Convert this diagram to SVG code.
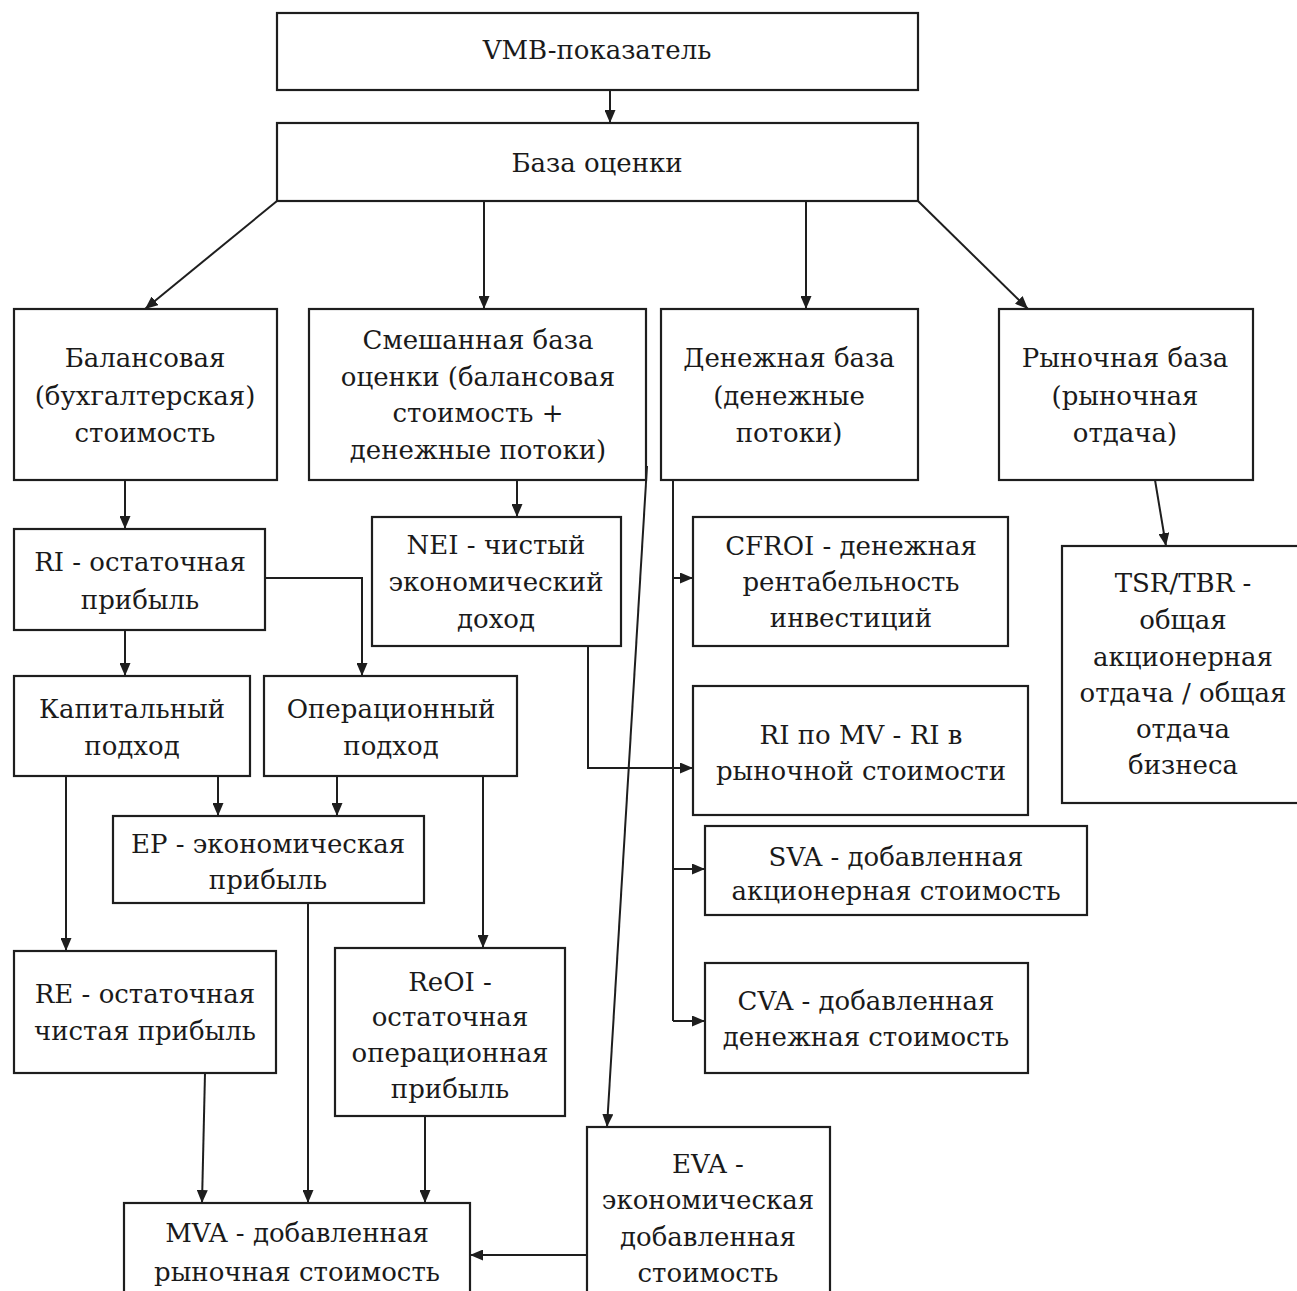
<svg xmlns="http://www.w3.org/2000/svg" width="1297" height="1291" viewBox="0 0 1297 1291">
<defs>
<style>
.box{fill:#ffffff;stroke:#1e1e1e;stroke-width:2.2}
.t{font-family:"DejaVu Serif","Liberation Serif",serif;font-size:26px;fill:#1a1a1a;text-anchor:middle}
.c{fill:none;stroke:#1e1e1e;stroke-width:2}
.a{marker-end:url(#ah)}
</style>
<marker id="ah" viewBox="0 0 13 11" refX="13" refY="5.5" markerWidth="13" markerHeight="11" markerUnits="userSpaceOnUse" orient="auto">
<path d="M0,0 L13,5.5 L0,11 Z" fill="#1e1e1e"/>
</marker>
</defs>
<rect width="1297" height="1291" fill="#ffffff"/>

<g id="connectors">
<line class="c a" x1="610" y1="90" x2="610" y2="123"/>
<line class="c a" x1="277" y1="201" x2="145" y2="309"/>
<line class="c a" x1="484" y1="201" x2="484" y2="309"/>
<line class="c a" x1="806" y1="201" x2="806" y2="309"/>
<line class="c a" x1="918" y1="201" x2="1028" y2="309"/>
<line class="c a" x1="125" y1="480" x2="125" y2="529"/>
<line class="c a" x1="517" y1="480" x2="517" y2="517"/>
<line class="c a" x1="1155" y1="480" x2="1166" y2="546"/>
<line class="c a" x1="125" y1="630" x2="125" y2="676"/>
<polyline class="c a" points="265,578 362,578 362,676"/>
<line class="c a" x1="218" y1="776" x2="218" y2="816"/>
<line class="c a" x1="337" y1="776" x2="337" y2="816"/>
<line class="c a" x1="66" y1="776" x2="66" y2="951"/>
<line class="c a" x1="483" y1="776" x2="483" y2="948"/>
<polyline class="c" points="673,480 673,1021"/>
<line class="c a" x1="673" y1="578" x2="693" y2="578"/>
<line class="c a" x1="673" y1="869" x2="705" y2="869"/>
<line class="c a" x1="673" y1="1021" x2="705" y2="1021"/>
<polyline class="c a" points="588,646 588,768 693,768"/>
<line class="c a" x1="647" y1="466" x2="607" y2="1127"/>
<line class="c a" x1="205" y1="1073" x2="202" y2="1203"/>
<line class="c a" x1="308" y1="903" x2="308" y2="1203"/>
<line class="c a" x1="425" y1="1116" x2="425" y2="1203"/>
<line class="c a" x1="587" y1="1255" x2="470" y2="1255"/>
</g>

<g id="n-vmb"><rect class="box" x="277" y="13" width="641" height="77"/><text class="t" x="597" y="59">VMB-показатель</text></g>
<g id="n-baza"><rect class="box" x="277" y="123" width="641" height="78"/><text class="t" x="597" y="172">База оценки</text></g>

<g id="n-balans"><rect class="box" x="14" y="309" width="263" height="171"/>
<text class="t" x="145" y="367">Балансовая</text><text class="t" x="145" y="405">(бухгалтерская)</text><text class="t" x="145" y="442">стоимость</text></g>
<g id="n-smesh"><rect class="box" x="309" y="309" width="337" height="171"/>
<text class="t" x="478" y="349">Смешанная база</text><text class="t" x="478" y="386">оценки (балансовая</text><text class="t" x="478" y="422">стоимость +</text><text class="t" x="478" y="459">денежные потоки)</text></g>
<g id="n-den"><rect class="box" x="661" y="309" width="257" height="171"/>
<text class="t" x="789" y="367">Денежная база</text><text class="t" x="789" y="405">(денежные</text><text class="t" x="789" y="442">потоки)</text></g>
<g id="n-ryn"><rect class="box" x="999" y="309" width="254" height="171"/>
<text class="t" x="1125" y="367">Рыночная база</text><text class="t" x="1125" y="405">(рыночная</text><text class="t" x="1125" y="442">отдача)</text></g>

<g id="n-ri"><rect class="box" x="14" y="529" width="251" height="101"/>
<text class="t" x="140" y="571">RI - остаточная</text><text class="t" x="140" y="609">прибыль</text></g>
<g id="n-nei"><rect class="box" x="372" y="517" width="249" height="129"/>
<text class="t" x="496" y="554">NEI - чистый</text><text class="t" x="496" y="591">экономический</text><text class="t" x="496" y="628">доход</text></g>
<g id="n-cfroi"><rect class="box" x="693" y="517" width="315" height="129"/>
<text class="t" x="851" y="555">CFROI - денежная</text><text class="t" x="851" y="591">рентабельность</text><text class="t" x="851" y="627">инвестиций</text></g>
<g id="n-tsr"><rect class="box" x="1062" y="546" width="240" height="257"/>
<text class="t" x="1183" y="592">TSR/TBR -</text><text class="t" x="1183" y="629">общая</text><text class="t" x="1183" y="666">акционерная</text><text class="t" x="1183" y="702">отдача / общая</text><text class="t" x="1183" y="738">отдача</text><text class="t" x="1183" y="774">бизнеса</text></g>

<g id="n-kap"><rect class="box" x="14" y="676" width="236" height="100"/>
<text class="t" x="132" y="718">Капитальный</text><text class="t" x="132" y="755">подход</text></g>
<g id="n-oper"><rect class="box" x="264" y="676" width="253" height="100"/>
<text class="t" x="391" y="718">Операционный</text><text class="t" x="391" y="755">подход</text></g>
<g id="n-rimv"><rect class="box" x="693" y="686" width="335" height="129"/>
<text class="t" x="861" y="744">RI по MV - RI в</text><text class="t" x="861" y="780">рыночной стоимости</text></g>
<g id="n-ep"><rect class="box" x="113" y="816" width="311" height="87"/>
<text class="t" x="268" y="853">EP - экономическая</text><text class="t" x="268" y="889">прибыль</text></g>
<g id="n-sva"><rect class="box" x="705" y="826" width="382" height="89"/>
<text class="t" x="896" y="866">SVA - добавленная</text><text class="t" x="896" y="900">акционерная стоимость</text></g>
<g id="n-re"><rect class="box" x="14" y="951" width="262" height="122"/>
<text class="t" x="145" y="1003">RE - остаточная</text><text class="t" x="145" y="1040">чистая прибыль</text></g>
<g id="n-reoi"><rect class="box" x="335" y="948" width="230" height="168"/>
<text class="t" x="450" y="991">ReOI -</text><text class="t" x="450" y="1026">остаточная</text><text class="t" x="450" y="1062">операционная</text><text class="t" x="450" y="1098">прибыль</text></g>
<g id="n-cva"><rect class="box" x="705" y="963" width="323" height="110"/>
<text class="t" x="866" y="1010">CVA - добавленная</text><text class="t" x="866" y="1046">денежная стоимость</text></g>
<g id="n-mva"><rect class="box" x="124" y="1203" width="346" height="100"/>
<text class="t" x="297" y="1242">MVA - добавленная</text><text class="t" x="297" y="1281">рыночная стоимость</text></g>
<g id="n-eva"><rect class="box" x="587" y="1127" width="243" height="180"/>
<text class="t" x="708" y="1173">EVA -</text><text class="t" x="708" y="1209">экономическая</text><text class="t" x="708" y="1246">добавленная</text><text class="t" x="708" y="1282">стоимость</text></g>
</svg>
